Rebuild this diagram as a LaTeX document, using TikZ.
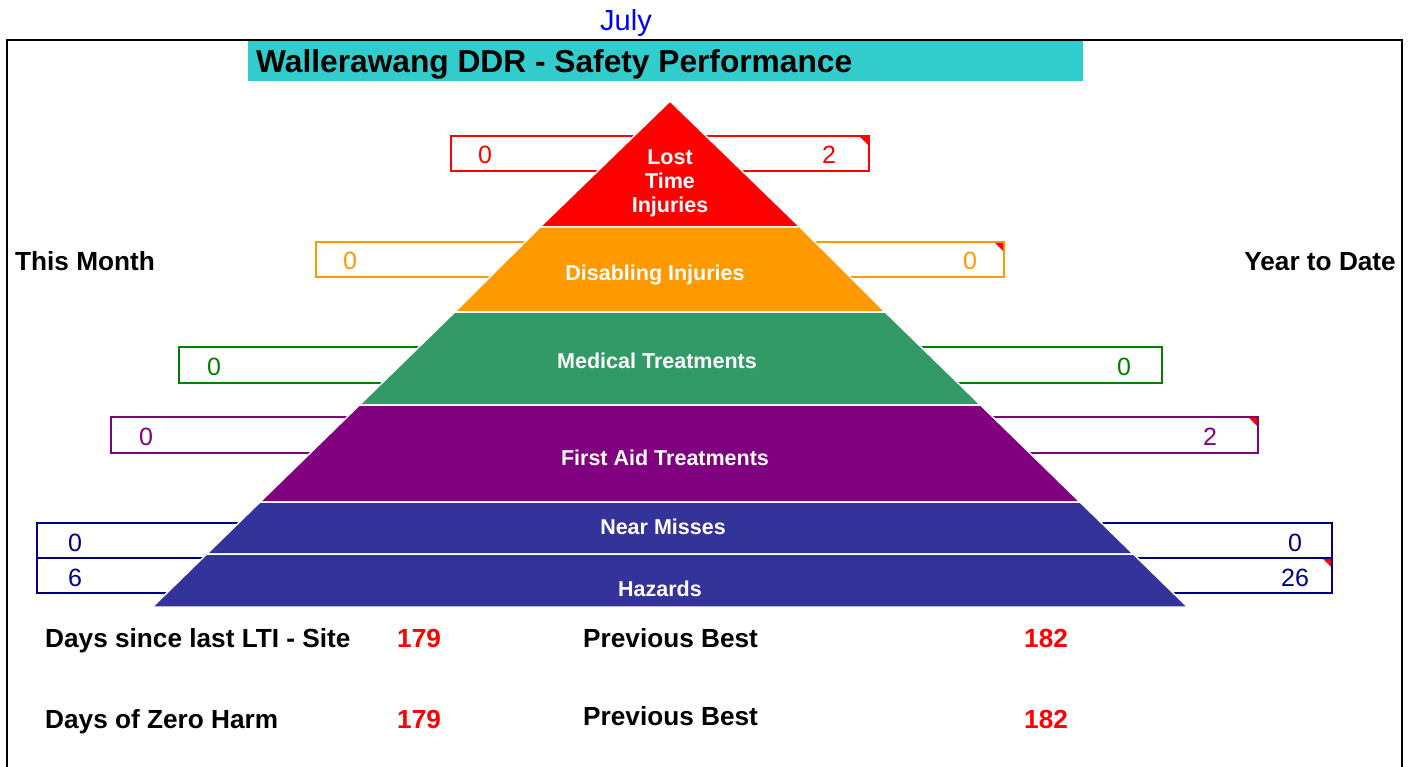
\documentclass[tikz,border=0pt]{standalone}
\usepackage{fontspec}
\setmainfont{Liberation Sans}
\usetikzlibrary{positioning}
\definecolor{titlecyan}{HTML}{33CCCC}
\definecolor{ltired}{HTML}{FF0000}
\definecolor{disorange}{HTML}{FF9900}
\definecolor{medgreen}{HTML}{339966}
\definecolor{boxgreen}{HTML}{008000}
\definecolor{faipurple}{HTML}{800080}
\definecolor{nearblue}{HTML}{333399}
\definecolor{boxnavy}{HTML}{000080}
\definecolor{julyblue}{HTML}{0000FF}

\begin{document}
\begin{tikzpicture}[x=1pt,y=-1pt]
    \tikzset{
    sp band/.style={draw=white,line width=1.5pt},
    sp box/.style={line width=2pt},
    sp num/.style={font=\fontsize{25}{28}\selectfont,inner sep=0},
    sp label/.style={text=white,font=\bfseries\fontsize{21.5}{24}\selectfont,align=center,inner sep=0},
    sp text/.style={font=\bfseries\fontsize{26.2}{30}\selectfont,inner sep=0},
    sp value/.style={text=ltired,font=\bfseries\fontsize{26.2}{30}\selectfont,inner sep=0,anchor=base west}
    }
    \useasboundingbox (0,0) rectangle (1412,767);

    % frame and heading
    \draw[line width=2pt] (7,767) -- (7,40) -- (1402,40) -- (1402,767);
    \node[fill=titlecyan,minimum width=835pt,minimum height=40pt,inner sep=0,anchor=north west] (title) at (248,41) {};
    \node[font=\bfseries\fontsize{31.7}{34}\selectfont,inner sep=0,anchor=base west] (titletext) at (256,73) {Wallerawang DDR - Safety Performance};
    \node[text=julyblue,font=\fontsize{29}{32}\selectfont,inner sep=0,anchor=base] (month) at (626,31) {July};

    \node[sp text,anchor=base west] (thismonth) at (15,270) {This Month};
    \node[sp text,anchor=base east] (yeartodate) at (1396,270) {Year to Date};

    % value boxes behind the pyramid
    \draw[sp box,ltired] (451,136) rectangle (869,171);
    \draw[sp box,disorange] (316,242) rectangle (1004,277);
    \draw[sp box,boxgreen] (179,347) rectangle (1162,383);
    \draw[sp box,faipurple] (111,417) rectangle (1258,453);
    \draw[sp box,boxnavy] (37,523) rectangle (1332,558);
    \draw[sp box,boxnavy] (37,558) rectangle (1332,593);

    % comment flags
    \fill[red] (868,137) -- (860,137) -- (868,145) -- cycle;
    \fill[red] (1003,243) -- (995,243) -- (1003,251) -- cycle;
    \fill[red] (1257,418) -- (1249,418) -- (1257,426) -- cycle;
    \fill[red] (1331,559) -- (1323,559) -- (1331,567) -- cycle;

    \node[sp num,text=ltired] (ltimonth) at (485,155) {0};
    \node[sp num,text=ltired] (ltiyear) at (829,155) {2};
    \node[sp num,text=disorange] (dimonth) at (350,261) {0};
    \node[sp num,text=disorange] (diyear) at (970,261) {0};
    \node[sp num,text=boxgreen] (mtmonth) at (214,367) {0};
    \node[sp num,text=boxgreen] (mtyear) at (1124,367) {0};
    \node[sp num,text=faipurple] (famonth) at (146,437) {0};
    \node[sp num,text=faipurple] (fayear) at (1210,437) {2};
    \node[sp num,text=boxnavy] (nmmonth) at (75,543) {0};
    \node[sp num,text=boxnavy] (nmyear) at (1295,543) {0};
    \node[sp num,text=boxnavy] (hzmonth) at (75,578) {6};
    \node[sp num,text=boxnavy] (hzyear) at (1295,578) {26};

    % pyramid
    \fill[ltired,sp band] (670,101) -- (540,227) -- (800,227) -- cycle;
    \fill[disorange,sp band] (540,227) -- (454.8,312) -- (885.2,312) -- (800,227) -- cycle;
    \fill[medgreen,sp band] (454.8,312) -- (359.4,405) -- (980.6,405) -- (885.2,312) -- cycle;
    \fill[faipurple,sp band] (359.4,405) -- (260,502) -- (1080,502) -- (980.6,405) -- cycle;
    \fill[nearblue,sp band] (260,502) -- (206.7,554) -- (1133.3,554) -- (1080,502) -- cycle;
    \fill[nearblue,sp band] (206.7,554) -- (152.4,607) -- (1187.6,607) -- (1133.3,554) -- cycle;

    \node[sp label] (lti) at (670,183) {Lost\\Time\\Injuries};
    \node[sp label] (di) at (655,275) {Disabling Injuries};
    \node[sp label] (mt) at (657,361) {Medical Treatments};
    \node[sp label] (fa) at (665,458) {First Aid Treatments};
    \node[sp label] (nm) at (663,527) {Near Misses};
    \node[sp label] (hz) at (660,589) {Hazards};

    % day counters
    \node[sp text,anchor=base west] (ltisite) at (45,647) {Days since last LTI - Site};
    \node[sp value] (ltidays) at (397,647) {179};
    \node[sp text,anchor=base west] (ltibest) at (583,647) {Previous Best};
    \node[sp value] (ltibestdays) at (1024,647) {182};
    \node[sp text,anchor=base west] (zeroharm) at (45,728) {Days of Zero Harm};
    \node[sp value] (zerodays) at (397,728) {179};
    \node[sp text,anchor=base west] (zerobest) at (583,725) {Previous Best};
    \node[sp value] (zerobestdays) at (1024,728) {182};
\end{tikzpicture}
\end{document}
